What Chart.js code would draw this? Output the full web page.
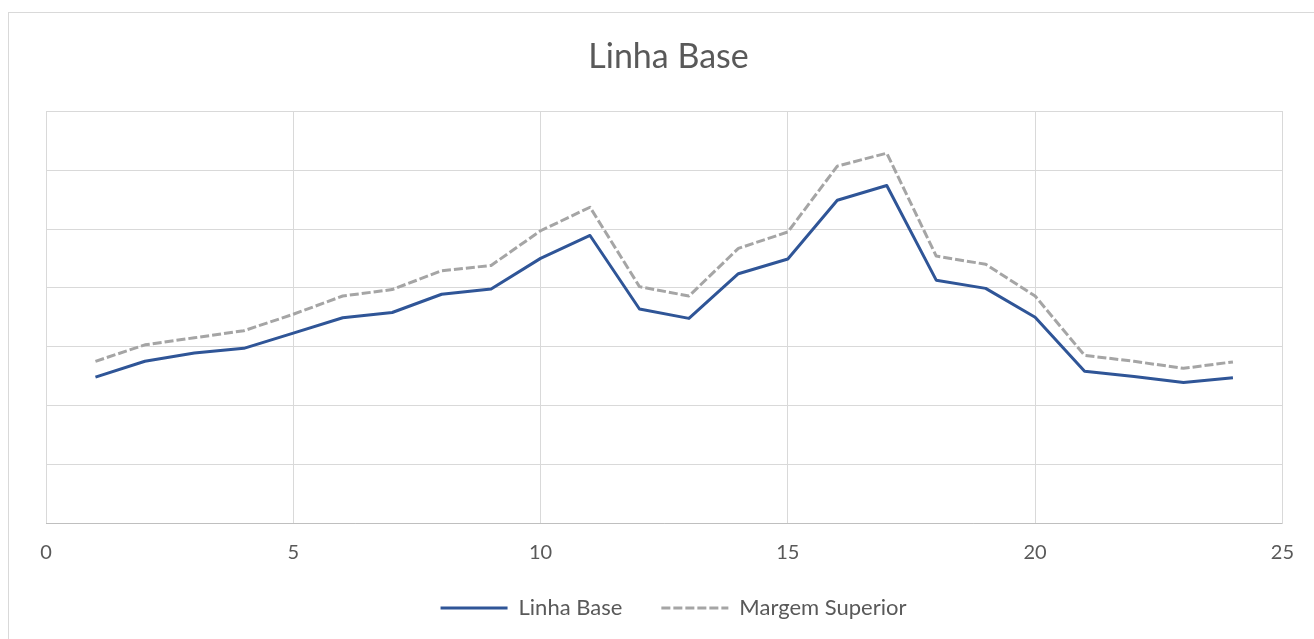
<!DOCTYPE html>
<html>
<head>
<meta charset="utf-8">
<script src="https://cdn.jsdelivr.net/npm/chart.js@4"></script>
<style>
  html, body { margin: 0; padding: 0; background: #ffffff; }
  #frame { position: absolute; left: 8px; top: 12px; width: 1400px; height: 700px; border: 1px solid #d9d9d9; box-sizing: border-box; }
  #wrap { position: absolute; left: 0; top: 0; width: 1314px; height: 639px; }
</style>
</head>
<body>
<div id="frame"></div>
<div id="wrap"><canvas id="c" width="1314" height="639"></canvas></div>
<script>
const chartTitle = "Linha Base";
const seriesNames = ["Linha Base", "Margem Superior"];
const xValues = [1, 2, 3, 4, 5, 6, 7, 8, 9, 10, 11, 12, 13, 14, 15, 16, 17, 18, 19, 20, 21, 22, 23, 24];
const linhaBase = [24.8, 27.5, 28.9, 29.7, 32.3, 34.9, 35.8, 38.9, 39.8, 45.0, 48.9, 36.4, 34.8, 42.4, 44.9, 54.9, 57.4, 41.3, 39.9, 35.0, 25.8, 24.9, 23.9, 24.7];
const margemSuperior = [27.5, 30.3, 31.5, 32.7, 35.5, 38.6, 39.7, 42.9, 43.8, 49.7, 53.7, 40.2, 38.6, 46.7, 49.5, 60.7, 62.9, 45.4, 44.0, 38.6, 28.5, 27.5, 26.3, 27.4];
const xTicks = [0, 5, 10, 15, 20, 25];

const toPoints = (vals) => vals.map((v, i) => ({ x: xValues[i], y: v }));
const textColor = "#595959";
const gridColor = "#d9d9d9";

// nudge title and legend boxes after layout to match the reference placement
const nudgePlugin = {
  id: "nudge",
  afterLayout(chart) {
    if (chart.legend) { chart.legend.top -= 10; chart.legend.bottom -= 10; }
    if (chart.titleBlock) { chart.titleBlock.left -= 5; chart.titleBlock.right -= 5; }
  }
};

new Chart(document.getElementById("c"), {
  type: "line",
  plugins: [nudgePlugin],
  data: {
    datasets: [
      {
        label: seriesNames[0],
        data: toPoints(linhaBase),
        borderColor: "#2f5597",
        backgroundColor: "#2f5597",
        borderWidth: 3,
        pointRadius: 0,
        tension: 0,
        borderJoinStyle: "round",
        pointStyle: "line"
      },
      {
        label: seriesNames[1],
        data: toPoints(margemSuperior),
        borderColor: "#a5a5a5",
        backgroundColor: "#a5a5a5",
        borderWidth: 3,
        borderDash: [9, 3],
        pointRadius: 0,
        tension: 0,
        borderJoinStyle: "round",
        pointStyle: "line"
      }
    ]
  },
  options: {
    responsive: false,
    animation: false,
    devicePixelRatio: 1,
    layout: { padding: { left: 46, right: 13, top: 0, bottom: 0 } },
    plugins: {
      tooltip: { enabled: false },
      title: {
        display: true,
        text: chartTitle,
        color: textColor,
        font: { family: "Lato", size: 34, weight: "normal", lineHeight: 1.2 },
        padding: { top: 37, bottom: 33.6 }
      },
      legend: {
        display: true,
        position: "bottom",
        labels: {
          usePointStyle: true,
          pointStyleWidth: 67,
          padding: 39,
          color: textColor,
          font: { family: "Lato", size: 22 },
          generateLabels(chart) {
            return chart.data.datasets.map((ds, i) => ({
              text: ds.label,
              fillStyle: ds.borderColor,
              strokeStyle: ds.borderColor,
              lineWidth: ds.borderWidth,
              lineDash: ds.borderDash || [],
              lineCap: "butt",
              pointStyle: "line",
              fontColor: textColor,
              hidden: false,
              datasetIndex: i
            }));
          }
        }
      }
    },
    scales: {
      x: {
        type: "linear",
        min: 0,
        max: 25,
        afterBuildTicks: (s) => { s.ticks = xTicks.map(v => ({ value: v })); },
        afterFit: (s) => { s.height = 45; },
        grid: { color: gridColor, lineWidth: 1, drawTicks: false },
        border: { color: "#bfbfbf", width: 1 },
        ticks: {
          color: textColor,
          padding: 20,
          font: { family: "Lato", size: 20, lineHeight: 1 },
          maxRotation: 0,
          autoSkip: false
        }
      },
      y: {
        position: "right",
        min: 0,
        max: 70,
        afterFit: (s) => { s.width = 16; },
        grid: { color: gridColor, lineWidth: 1, drawTicks: false },
        border: { color: gridColor, width: 1 },
        ticks: { display: false, stepSize: 10 }
      }
    }
  }
});
</script>
</body>
</html>
